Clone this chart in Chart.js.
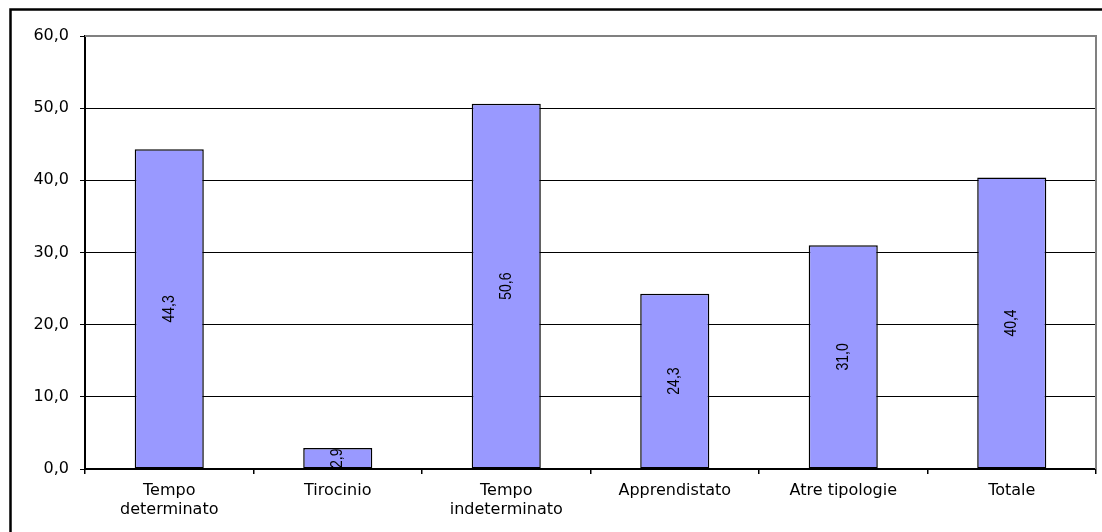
<!DOCTYPE html>
<html>
<head>
<meta charset="utf-8">
<script src="https://cdn.jsdelivr.net/npm/chart.js@4/dist/chart.umd.min.js"></script>
<style>
  body { margin: 0; background: #fff; }
  canvas { display: block; }
</style>
</head>
<body>
<canvas id="grafico" width="1102" height="532"></canvas>
<script>
// dati
const categorie = [['Tempo', 'determinato'], 'Tirocinio', ['Tempo', 'indeterminato'], 'Apprendistato', 'Atre tipologie', 'Totale'];
const valori = [44.3, 2.9, 50.6, 24.3, 31.0, 40.4];
const yMin = 0, yMax = 60, yPasso = 10;

const virgola = v => Number(v).toFixed(1).replace('.', ',');

// cornice esterna + bordo area grafico
const cornice = {
    id: 'cornice',
    beforeDraw(chart) {
        const c = chart.ctx;
        c.save();
        c.fillStyle = '#fff';
        c.fillRect(0, 0, chart.width, chart.height);
        c.restore();
    },
    afterDraw(chart) {
        const c = chart.ctx, a = chart.chartArea;
        c.save();
        c.strokeStyle = '#000';
        c.lineWidth = 2.5;
        c.beginPath();
        c.moveTo(10.5, chart.height + 5);
        c.lineTo(10.5, 9.5);
        c.lineTo(chart.width + 5, 9.5);
        c.stroke();
        c.strokeStyle = '#808080';
        c.lineWidth = 2;
        c.beginPath();
        c.moveTo(a.left, a.top);
        c.lineTo(a.right, a.top);
        c.lineTo(a.right, a.bottom);
        c.stroke();
        c.restore();
    }
};

// etichette verticali al centro delle barre (leggermente allargate come nell'originale)
const etichette = {
    id: 'etichette',
    afterDatasetsDraw(chart) {
        const c = chart.ctx;
        const meta = chart.getDatasetMeta(0);
        c.save();
        c.font = '14px "Liberation Sans", Arial, sans-serif';
        c.fillStyle = '#000';
        c.textAlign = 'center';
        c.textBaseline = 'middle';
        meta.data.forEach((bar, i) => {
            const y = (bar.y + bar.base) / 2;
            c.save();
            c.translate(bar.x, y);
            c.scale(1.2, 1);
            c.rotate(-Math.PI / 2);
            c.fillText(virgola(valori[i]), 0, 0);
            c.restore();
        });
        c.restore();
    }
};

new Chart(document.getElementById('grafico'), {
    type: 'bar',
    data: {
        labels: categorie,
        datasets: [{
            data: valori,
            backgroundColor: '#9999FF',
            borderColor: '#000',
            borderWidth: 1.5,
            borderSkipped: false,
            barPercentage: 0.41,
            categoryPercentage: 1
        }]
    },
    options: {
        responsive: false,
        animation: false,
        devicePixelRatio: 1,
        layout: { padding: { top: 36, right: 6, left: 0, bottom: 0 } },
        plugins: { legend: { display: false }, tooltip: { enabled: false } },
        scales: {
            x: {
                afterFit: s => { s.height = 63; },
                grid: { offset: true, drawOnChartArea: false, color: '#000', tickLength: 5, lineWidth: 1.5 },
                border: { color: '#000', width: 2 },
                ticks: { color: '#000', padding: 7, maxRotation: 0, autoSkip: false,
                         font: { family: '"DejaVu Sans", sans-serif', size: 16 } }
            },
            y: {
                min: yMin, max: yMax,
                afterFit: s => { s.width = 85; },
                grid: {
                    color: ctx => ctx.tick && ctx.tick.value === yMax ? '#808080' : '#000',
                    tickColor: '#000',
                    tickLength: 5,
                    lineWidth: 1
                },
                border: { color: '#000', width: 2 },
                ticks: { stepSize: yPasso, color: '#000', padding: 11,
                         font: { family: '"DejaVu Sans", sans-serif', size: 16 },
                         callback: v => virgola(v) }
            }
        }
    },
    plugins: [cornice, etichette]
});
</script>
</body>
</html>
